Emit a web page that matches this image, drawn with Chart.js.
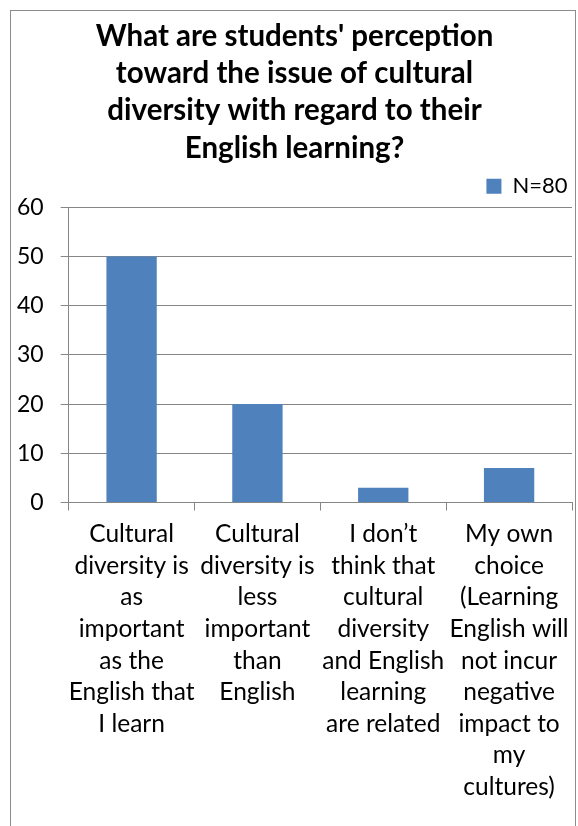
<!DOCTYPE html>
<html>
<head>
<meta charset="utf-8">
<script src="https://cdn.jsdelivr.net/npm/chart.js@4.4.0/dist/chart.umd.min.js"></script>
<style>
    body { margin: 0; background: #fff; }
    #frame { position: absolute; left: 10px; top: 10px; width: 564px; height: 830px; border: 1px solid #8c8c8c; border-bottom: none; }
    canvas { display: block; }
</style>
</head>
<body>
<div id="frame"><canvas id="chart" width="564" height="815"></canvas></div>
<script>
const titleLines = [
    "What are students' perception",
    'toward the issue of cultural',
    'diversity with regard to their',
    'English learning?'
];
const categories = [
    ['Cultural', 'diversity is', 'as', 'important', 'as the', 'English that', 'I learn'],
    ['Cultural', 'diversity is', 'less', 'important', 'than', 'English'],
    ['I don\u2019t', 'think that', 'cultural', 'diversity', 'and English', 'learning', 'are related'],
    ['My own', 'choice', '(Learning', 'English will', 'not incur', 'negative', 'impact to', 'my', 'cultures)']
];
const seriesName = 'N=80';
const seriesValues = [50, 20, 3, 7];
const yMin = 0;
const yMax = 60;
const yStep = 10;

const fontFamily = 'Lato, "Liberation Sans", sans-serif';
const gridColor = '#868686';
const yTickPadding = 17;

const ctx = document.getElementById('chart').getContext('2d');
const chart = new Chart(ctx, {
    type: 'bar',
    data: {
        labels: categories,
        datasets: [
            {
                label: seriesName,
                data: seriesValues,
                backgroundColor: '#4F81BD',
                borderWidth: 0,
                barPercentage: 0.4,
                categoryPercentage: 1
            }
        ]
    },
    options: {
        responsive: false,
        animation: false,
        layout: {
            padding: { left: 6, right: 3, top: 7, bottom: 15 }
        },
        plugins: {
            title: {
                display: true,
                text: titleLines,
                color: '#000',
                font: { family: fontFamily, size: 29.5, weight: 'bold', lineHeight: 1.26 },
                padding: { top: 0, bottom: 4 }
            },
            legend: {
                position: 'top',
                align: 'end',
                labels: {
                    color: '#000',
                    boxWidth: 15,
                    boxHeight: 15,
                    padding: 4.5,
                    font: { family: fontFamily, size: 22 }
                }
            },
            tooltip: { enabled: false }
        },
        scales: {
            x: {
                afterFit: (scale) => {
                    // keep wide wrapped labels from pushing the plot inwards
                    scale.paddingLeft = 0;
                    scale.paddingRight = 0;
                },
                grid: {
                    offset: true,
                    drawOnChartArea: false,
                    tickLength: 8,
                    color: gridColor
                },
                border: { color: gridColor },
                ticks: {
                    color: '#000',
                    autoSkip: false,
                    maxRotation: 0,
                    padding: 8,
                    font: { family: fontFamily, size: 24.5, lineHeight: 1.29 }
                }
            },
            y: {
                min: yMin,
                max: yMax,
                afterFit: (scale) => {
                    // chart.js reserves the tick padding twice; drop the outer one
                    scale.width -= yTickPadding;
                },
                grid: {
                    color: gridColor,
                    tickLength: 8
                },
                border: { color: gridColor },
                ticks: {
                    stepSize: yStep,
                    color: '#000',
                    padding: yTickPadding,
                    font: { family: fontFamily, size: 23 }
                }
            }
        }
    }
});
</script>
</body>
</html>
